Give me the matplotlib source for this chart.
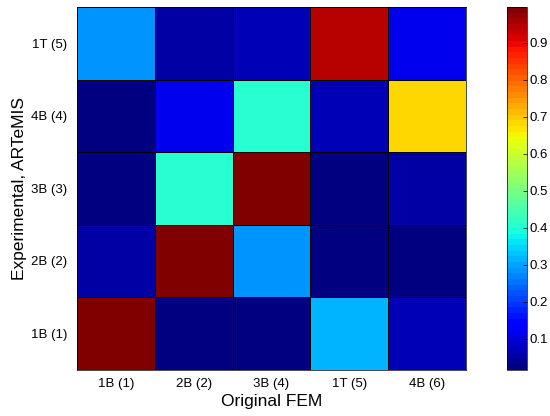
import numpy as np
import matplotlib.pyplot as plt

plt.rcParams['font.family'] = ['Liberation Sans', 'DejaVu Sans']

fem_modes = ['1B (1)', '2B (2)', '3B (4)', '1T (5)', '4B (6)']
exp_modes = ['1B (1)', '2B (2)', '3B (3)', '4B (4)', '1T (5)']

# MAC values, rows = experimental modes (bottom to top), cols = FEM modes
mac_1b = [0.997, 0.03, 0.03, 0.31, 0.07]
mac_2b = [0.05, 0.997, 0.28, 0.03, 0.025]
mac_3b = [0.03, 0.41, 0.985, 0.025, 0.06]
mac_4b = [0.016, 0.11, 0.40, 0.07, 0.69]
mac_1t = [0.28, 0.06, 0.07, 0.94, 0.11]

mac = np.array([mac_1b, mac_2b, mac_3b, mac_4b, mac_1t])

fig = plt.figure(figsize=(5.5, 4.16), dpi=100)
ax = fig.add_axes([0.140, 0.111, 0.707, 0.872])
cax = fig.add_axes([0.922, 0.111, 0.036, 0.872])

jet64 = plt.get_cmap('jet', 64)
mesh = ax.pcolormesh(np.arange(6), np.arange(6), mac, cmap=jet64,
                     vmin=mac.min(), vmax=mac.max(),
                     edgecolors='k', linewidth=0.5)

ax.set_xticks(np.arange(5) + 0.5)
ax.set_xticklabels(fem_modes)
ax.set_yticks(np.arange(5) + 0.5)
ax.set_yticklabels(exp_modes)
ax.tick_params(axis='x', length=0, labelsize=9.5, pad=6)
ax.tick_params(axis='y', length=0, labelsize=9.5, pad=7)
ax.set_xlabel('Original FEM', fontsize=12.5, labelpad=3)
ax.set_ylabel('Experimental, ARTeMIS', fontsize=12.5, labelpad=3)
for s in ax.spines.values():
    s.set_linewidth(0.5)

cb = fig.colorbar(mesh, cax=cax)
cb.set_ticks(np.arange(0.1, 0.95, 0.1))
cb.set_ticklabels(['0.%d' % i for i in range(1, 10)])
cax.tick_params(direction='in', length=3, width=0.5, labelsize=9.5, pad=2)
cb.outline.set_linewidth(0.5)

fig.savefig('out.png', dpi=100)
